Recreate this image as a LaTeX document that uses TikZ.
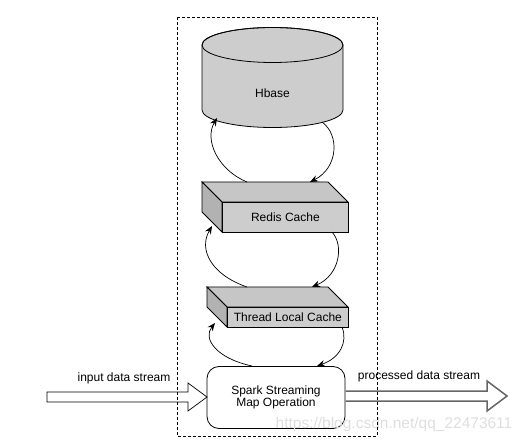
\documentclass[tikz,border=0pt]{standalone}
\usepackage{fontspec}
\setmainfont{Liberation Sans}
\usetikzlibrary{arrows.meta}
\definecolor{boxfront}{HTML}{CDCDCD}
\definecolor{boxtop}{HTML}{C6C6C6}
\definecolor{boxside}{HTML}{B2B2B2}
\definecolor{outgray}{HTML}{666666}
\definecolor{wmark}{HTML}{DEDEDE}
\begin{document}
\begin{tikzpicture}[x=1pt,y=-1pt,line width=0.8pt,
  lbl/.style={font=\fontsize{12}{12.7}\selectfont, inner sep=0pt, align=center},
  face/.style={draw, fill=boxfront, inner sep=0pt, anchor=north west, font=\fontsize{12}{12.7}\selectfont},
  flow/.style={-{Stealth[length=8pt,width=6.5pt]}, line width=0.7pt},
  hollow/.style={draw, fill=white, line width=0.7pt},
]
\useasboundingbox (0,0) rectangle (527,443);

% Hbase cylinder
\draw[fill=boxfront] (202,45) -- (202,110) arc[start angle=180,end angle=0,x radius=70.5,y radius=17.5]
   -- (343,45) arc[start angle=0,end angle=-180,x radius=70.5,y radius=17.5] -- cycle;
\draw (272.5,45) ellipse[x radius=70.5,y radius=17.5];
\node[lbl] (hbase) at (272.5,93) {Hbase};

% Redis Cache box
\draw[fill=boxtop] (202,182) -- (328,182) -- (348,202) -- (222,202) -- cycle;
\draw[fill=boxside] (202,182) -- (222,202) -- (222,232) -- (202,212) -- cycle;
\node[face, minimum width=126pt, minimum height=30pt] (redis) at (222,202) {Redis Cache};

% Thread Local Cache box
\draw[fill=boxtop] (207,287) -- (328,287) -- (348,307) -- (227,307) -- cycle;
\draw[fill=boxside] (207,287) -- (227,307) -- (227,327) -- (207,307) -- cycle;
\node[face, minimum width=121pt, minimum height=20pt] (tlc) at (227,307) {Thread Local Cache};

% Spark node
\node[draw, fill=white, rounded corners=12pt, minimum width=138pt, minimum height=62pt,
      lbl, inner sep=0pt] (spark) at (276,397.5) {Spark Streaming\\Map Operation};

% connector end points
\coordinate (hbL) at (217,118);
\coordinate (hbR) at (322,122);
\coordinate (rdTL) at (247,182);
\coordinate (rdTR) at (310,182);
\coordinate (rdBL) at (212,226);
\coordinate (rdBR) at (332,232);
\coordinate (tlTL) at (247,287);
\coordinate (tlTR) at (312,287);
\coordinate (tlBL) at (215,323);
\coordinate (tlBR) at (342,327);
\coordinate (spL) at (252,366);
\coordinate (spR) at (317,366);

\draw[flow] (rdTL) .. controls (218,170) and (204,140) .. (hbL);
\draw[flow] (hbR) .. controls (340,135) and (338,168) .. (rdTR);
\draw[flow] (tlTL) .. controls (212,275) and (198,250) .. (rdBL);
\draw[flow] (rdBR) .. controls (344,245) and (340,275) .. (tlTR);
\draw[flow] (spL) .. controls (215,358) and (203,338) .. (tlBL);
\draw[flow] (tlBR) .. controls (348,342) and (340,358) .. (spR);

% input / output streams
\draw[hollow] (47,392) -- (188,392) -- (188,383) -- (207,397) -- (188,411) -- (188,402) -- (47,402) -- cycle;
\fill[white] (345.5,391) rectangle (487,401);
\draw[outgray, line width=1.5pt] (345.5,391) -- (487,391) -- (487,381) -- (507,396) -- (487,411) -- (487,401) -- (345.5,401);
\node[lbl] (inlbl) at (124,378) {input data stream};
\node[lbl] (outlbl) at (419,376) {processed data stream};

% watermark
\node[font=\fontsize{15.5}{17}\selectfont, text=wmark, inner sep=0pt] (wm) at (394,424) {https://blog.csdn.net/qq\_22473611};

% dashed container
\draw[dashed, line width=0.7pt, dash pattern=on 3pt off 2pt] (177,17) rectangle (377,436);
\end{tikzpicture}
\end{document}
